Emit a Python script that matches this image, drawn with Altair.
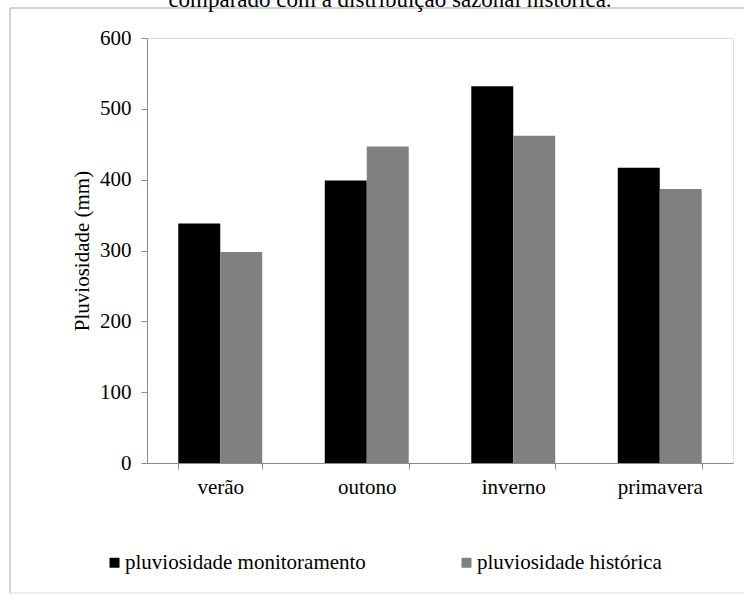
import altair as alt
import pandas as pd

seasons = ["verão", "outono", "inverno", "primavera"]
series = ["pluviosidade monitoramento", "pluviosidade histórica"]
monitoramento = [338, 399, 532, 417]
historica = [298, 447, 462, 387]
colors = ["#000000", "#808080"]
y_ticks = [0, 100, 200, 300, 400, 500, 600]
title_text = "comparado com a distribuição sazonal histórica."

rows = []
for s, m, h in zip(seasons, monitoramento, historica):
    rows.append({"estacao": s, "serie": series[0], "valor": m})
    rows.append({"estacao": s, "serie": series[1], "valor": h})
df = pd.DataFrame(rows)

FONT = "Liberation Serif"
FS = 21
W, H = 586, 425

bars = alt.Chart(df).mark_bar(stroke=None).encode(
    x=alt.X("estacao:N", sort=seasons, title=None,
            scale=alt.Scale(paddingInner=0.427, paddingOuter=0.2135),
            axis=alt.Axis(labelAngle=0, tickBand="extent", tickSize=6,
                          domainColor="#8c8c8c", tickColor="#8c8c8c",
                          labelFont=FONT, labelFontSize=FS, labelColor="#000",
                          labelPadding=7, grid=False)),
    xOffset=alt.XOffset("serie:N", sort=series,
                        scale=alt.Scale(paddingInner=0, paddingOuter=0)),
    y=alt.Y("valor:Q", title="Pluviosidade (mm)",
            scale=alt.Scale(domain=[0, 600], nice=False),
            axis=alt.Axis(values=y_ticks, tickSize=6, grid=False,
                          domainColor="#8c8c8c", tickColor="#8c8c8c",
                          labelFont=FONT, labelFontSize=FS, labelColor="#000",
                          labelPadding=10, titleFont=FONT, titleFontSize=21,
                          titleFontWeight="normal", titleColor="#000",
                          titlePadding=7)),
    color=alt.Color("serie:N", sort=series,
                    scale=alt.Scale(domain=series, range=colors),
                    legend=alt.Legend(title=None, orient="none", legendX=-43,
                                      legendY=514, direction="horizontal",
                                      columns=2, columnPadding=90,
                                      symbolType="square", symbolSize=100,
                                      symbolStrokeWidth=0, labelOffset=0,
                                      labelFont=FONT, labelFontSize=FS,
                                      labelColor="#000", labelLimit=400)),
)

one = pd.DataFrame({"k": [0]})
frame_left = alt.Chart(one).mark_rule(color="#a6a6a6", strokeWidth=1).encode(
    x=alt.value(-137), y=alt.value(-30), y2=alt.value(555))
frame_top = alt.Chart(one).mark_rule(color="#a6a6a6", strokeWidth=1).encode(
    x=alt.value(-137), x2=alt.value(620), y=alt.value(-30))
frame_bottom = alt.Chart(one).mark_rule(color="#d9d9d9", strokeWidth=1).encode(
    x=alt.value(-137), x2=alt.value(620), y=alt.value(555))
title_mark = alt.Chart(pd.DataFrame({"t": [title_text]})).mark_text(
    font=FONT, fontSize=23, color="#000", baseline="alphabetic", align="center"
).encode(x=alt.value(243), y=alt.value(-31), text="t:N")

chart = alt.layer(frame_left, frame_top, frame_bottom, title_mark, bars).properties(
    width=W, height=H,
    autosize=alt.AutoSizeParams(type="none"),
    padding={"left": 147, "top": 38, "right": 11, "bottom": 131},
).configure_view(stroke=None).configure(background="white")

chart.save("out.html", embed_options={"renderer": "svg", "actions": False})
